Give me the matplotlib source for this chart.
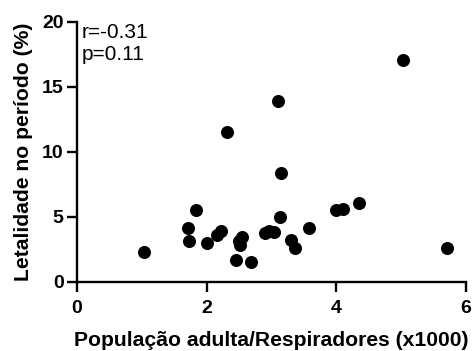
#!/usr/bin/env python3
""" scatter of lethality vs adult population per ventilator """

import matplotlib
matplotlib.use("Agg")
import matplotlib.pyplot as plt

plt.rcParams['font.family'] = ['Liberation Sans', 'DejaVu Sans']

# adult population / ventilators (x1000)
pop_per_vent = [1.04, 1.84, 1.72, 1.73, 2.00, 2.16, 2.22, 2.46, 2.50, 2.55,
                2.52, 2.69, 2.90, 2.96, 3.04, 3.13, 3.30, 3.37, 3.58, 3.99,
                4.10, 4.35, 5.70, 5.03, 3.10, 2.31, 3.15]
# lethality in the period (%)
lethality = [2.28, 5.50, 4.10, 3.13, 2.95, 3.60, 3.90, 1.65, 3.13, 3.40,
             2.82, 1.54, 3.77, 3.92, 3.85, 5.00, 3.20, 2.60, 4.10, 5.50,
             5.57, 6.08, 2.57, 17.05, 13.90, 11.50, 8.34]

r_text = "r=-0.31\np=0.11"

fig = plt.figure(figsize=(4.72, 3.51), dpi=100)
ax = fig.add_axes([0.1625, 0.1974, 0.825, 0.741])

ax.scatter(pop_per_vent, lethality, s=70, color='black', zorder=3,
           clip_on=False)

ax.set_xlim(0, 6)
ax.set_ylim(0, 20)
ax.set_xticks([0, 2, 4, 6])
ax.set_yticks([0, 5, 10, 15, 20])

for side in ['top', 'right']:
    ax.spines[side].set_visible(False)
for side in ['left', 'bottom']:
    ax.spines[side].set_linewidth(1.7)

ax.tick_params(width=1.7, length=7.5, labelsize=14)
ax.tick_params(axis='y', pad=2)
ax.tick_params(axis='x', pad=6)
for lab in ax.get_xticklabels() + ax.get_yticklabels():
    lab.set_fontweight('bold')

ax.set_xlabel("População adulta/Respiradores (x1000)", fontsize=15.2,
              fontweight='bold', labelpad=10)
ax.set_ylabel("Letalidade no período (%)", fontsize=15.2,
              fontweight='bold', labelpad=6)

ax.text(0.08, 19.9, r_text, fontsize=15, va='top', ha='left',
        linespacing=1.18)

fig.savefig("out.png", dpi=100)
